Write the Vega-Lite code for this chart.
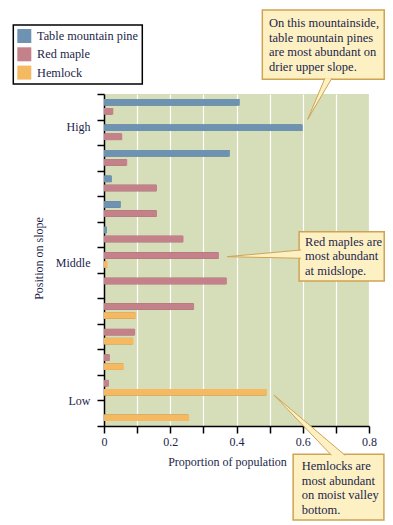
{
  "$schema": "https://vega.github.io/schema/vega-lite/v6.json",
  "autosize": {"type": "none"},
  "width": 265,
  "height": 332,
  "padding": {"left": 104, "top": 94, "right": 24, "bottom": 99},
  "background": "white",
  "config": {
    "font": "Liberation Serif",
    "view": {"fill": "#d6ddb9", "stroke": null},
    "axis": {
      "labelFont": "Liberation Serif", "titleFont": "Liberation Serif",
      "labelFontSize": 12, "titleFontSize": 12,
      "labelColor": "#1c1f4a", "titleColor": "#1c1f4a", "titleFontWeight": "normal",
      "domainColor": "#000", "tickColor": "#000", "domainWidth": 1.5, "tickWidth": 1.5, "tickSize": 7
    },
    "axisX": {
      "title": "Proportion of population",
      "values": [0, 0.1, 0.2, 0.3, 0.4, 0.5, 0.6, 0.7, 0.8],
      "format": ".1~f",
      "labelExpr": "indexof(['0','0.2','0.4','0.6','0.8'], datum.label) >= 0 ? datum.label : ''",
      "labelFlush": false, "labelOverlap": false, "labelPadding": 3,
      "grid": true, "gridColor": "#ffffff", "gridWidth": 1.2,
      "titleX": 123, "titleY": 35, "titleBaseline": "middle", "titleAlign": "center"
    },
    "legend": {
      "title": null, "orient": "none", "legendX": -90.7, "legendY": -69,
      "symbolType": "square", "symbolSize": 196, "symbolStrokeWidth": 0,
      "labelFont": "Liberation Serif", "labelFontSize": 12.3, "labelColor": "#1c1f4a",
      "labelOffset": 5.7, "padding": 4, "rowPadding": 4.3,
      "strokeColor": "#000", "fillColor": "#fff", "strokeWidth": 1.5
    }
  },
  "datasets": {
    "bars": [
      {"row": 1, "slot": "a", "species": "Table mountain pine", "value": 0.41},
      {"row": 1, "slot": "b", "species": "Red maple", "value": 0.028},
      {"row": 2, "slot": "a", "species": "Table mountain pine", "value": 0.60},
      {"row": 2, "slot": "b", "species": "Red maple", "value": 0.055},
      {"row": 3, "slot": "a", "species": "Table mountain pine", "value": 0.38},
      {"row": 3, "slot": "b", "species": "Red maple", "value": 0.07},
      {"row": 4, "slot": "a", "species": "Table mountain pine", "value": 0.024},
      {"row": 4, "slot": "b", "species": "Red maple", "value": 0.16},
      {"row": 5, "slot": "a", "species": "Table mountain pine", "value": 0.051},
      {"row": 5, "slot": "b", "species": "Red maple", "value": 0.16},
      {"row": 6, "slot": "a", "species": "Table mountain pine", "value": 0.009},
      {"row": 6, "slot": "b", "species": "Red maple", "value": 0.24},
      {"row": 7, "slot": "a", "species": "Red maple", "value": 0.347},
      {"row": 7, "slot": "b", "species": "Hemlock", "value": 0.011},
      {"row": 8, "slot": "a", "species": "Red maple", "value": 0.371},
      {"row": 9, "slot": "a", "species": "Red maple", "value": 0.272},
      {"row": 9, "slot": "b", "species": "Hemlock", "value": 0.097},
      {"row": 10, "slot": "a", "species": "Red maple", "value": 0.094},
      {"row": 10, "slot": "b", "species": "Hemlock", "value": 0.089},
      {"row": 11, "slot": "a", "species": "Red maple", "value": 0.018},
      {"row": 11, "slot": "b", "species": "Hemlock", "value": 0.06},
      {"row": 12, "slot": "a", "species": "Red maple", "value": 0.015},
      {"row": 12, "slot": "b", "species": "Hemlock", "value": 0.492},
      {"row": 13, "slot": "b", "species": "Hemlock", "value": 0.257}
    ],
    "boxes": [
      {"id": "pine", "x1": 0.478, "x2": 0.846, "y1": -3.289, "y2": -0.576},
      {"id": "maple", "x1": 0.589, "x2": 0.846, "y1": 5.391, "y2": 7.322},
      {"id": "hemlock", "x1": 0.571, "x2": 0.845, "y1": 14.107, "y2": 16.68}
    ],
    "pointers": [
      {"id": "pine", "k": 1, "x": 0.667, "y": -0.62},
      {"id": "pine", "k": 2, "x": 0.615, "y": 0.991},
      {"id": "pine", "k": 3, "x": 0.688, "y": -0.62},
      {"id": "maple", "k": 1, "x": 0.595, "y": 6.108},
      {"id": "maple", "k": 2, "x": 0.372, "y": 6.37},
      {"id": "maple", "k": 3, "x": 0.595, "y": 6.433},
      {"id": "hemlock", "k": 1, "x": 0.687, "y": 14.15},
      {"id": "hemlock", "k": 2, "x": 0.513, "y": 11.785},
      {"id": "hemlock", "k": 3, "x": 0.728, "y": 14.15}
    ],
    "notes": [
      {"id": "pine", "x": 0.498, "y": -2.604, "text": "On this mountainside,\ntable mountain pines\nare most abundant on\ndrier upper slope."},
      {"id": "maple", "x": 0.607, "y": 5.951, "text": "Red maples are\nmost abundant\nat midslope."},
      {"id": "hemlock", "x": 0.597, "y": 14.74, "text": "Hemlocks are\nmost abundant\non moist valley\nbottom."}
    ]
  },
  "layer": [
    {
      "data": {"name": "bars"},
      "encoding": {
        "y": {
          "field": "row", "type": "ordinal",
          "scale": {"paddingInner": 0, "paddingOuter": 0},
          "axis": {
            "title": "Position on slope",
            "tickBand": "extent",
            "labelExpr": "datum.value == 2 ? 'High' : datum.value == 7 ? 'Middle' : datum.value == 12 ? 'Low' : ''",
            "labelOffset": {"condition": [{"test": "datum.value == 2", "value": -6}, {"test": "datum.value == 12", "value": 13}], "value": 2},
            "labelPadding": 7,
            "labelAngle": 0,
            "titleX": -66, "titleY": 164, "titleAngle": -90,
            "titleBaseline": "middle", "titleAlign": "center"
          }
        },
        "yOffset": {"field": "slot", "type": "nominal", "scale": {"paddingInner": 0.278, "paddingOuter": 0.558}},
        "x": {
          "field": "value", "type": "quantitative", "stack": null,
          "title": "Proportion of population",
          "scale": {"domain": [0, 0.8], "nice": false}
        }
      },
      "layer": [
        {
          "mark": {"type": "bar", "yOffset": 1.5, "xOffset": -1},
          "encoding": {
            "color": {"field": "species", "type": "nominal", "title": null,
              "scale": {"domain": ["Table mountain pine", "Red maple", "Hemlock"], "range": ["#6e93b2", "#c4818a", "#f5b962"]}}
          }
        },
        {
          "mark": {"type": "bar", "yOffset": 1.5, "xOffset": -1, "color": "#000", "opacity": 0.38}
        },
        {
          "mark": {"type": "bar"},
          "encoding": {
            "color": {"field": "species", "type": "nominal", "title": null,
              "scale": {"domain": ["Table mountain pine", "Red maple", "Hemlock"], "range": ["#6e93b2", "#c4818a", "#f5b962"]}}
          }
        }
      ]
    },
    {
      "layer": [
        {
          "data": {"name": "boxes"},
          "mark": {"type": "rect", "fill": "#fdf1c4", "stroke": "#cfa352", "strokeWidth": 1.5},
          "encoding": {
            "x": {"field": "x1", "type": "quantitative", "title": "Proportion of population", "scale": {"domain": [0, 0.8], "nice": false}},
            "x2": {"field": "x2"},
            "y": {"field": "y1", "type": "quantitative", "scale": {"domain": [0, 13], "reverse": true, "nice": false, "zero": false}, "axis": null},
            "y2": {"field": "y2"}
          }
        },
        {
          "data": {"name": "pointers"},
          "mark": {"type": "line", "fill": "#fdf1c4", "stroke": "#cfa352", "strokeWidth": 1},
          "encoding": {
            "x": {"field": "x", "type": "quantitative", "title": "Proportion of population", "scale": {"domain": [0, 0.8], "nice": false}},
            "y": {"field": "y", "type": "quantitative", "axis": null},
            "detail": {"field": "id"},
            "order": {"field": "k"}
          }
        },
        {
          "data": {"name": "notes"},
          "mark": {"type": "text", "align": "left", "baseline": "alphabetic", "lineBreak": "\n", "lineHeight": 14.4,
                   "font": "Liberation Serif", "fontSize": 12.5, "color": "#1c1f4a"},
          "encoding": {
            "x": {"field": "x", "type": "quantitative", "title": "Proportion of population", "scale": {"domain": [0, 0.8], "nice": false}},
            "y": {"field": "y", "type": "quantitative", "axis": null},
            "text": {"field": "text"}
          }
        }
      ]
    }
  ],
  "resolve": {"scale": {"y": "independent"}}
}
